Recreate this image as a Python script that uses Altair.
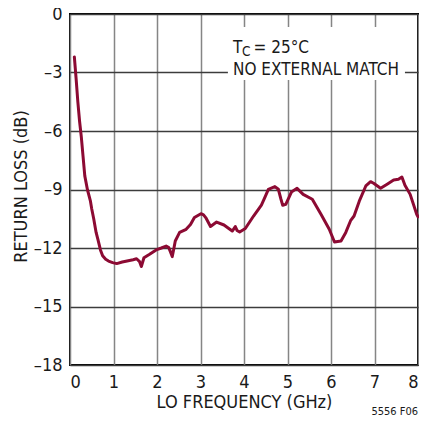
import altair as alt
import pandas as pd

freq = [0.10, 0.14, 0.18, 0.22, 0.26, 0.30, 0.34, 0.40, 0.47, 0.50, 0.545, 0.60, 0.64, 0.70,
        0.75, 0.82, 0.886, 0.98, 1.075, 1.20, 1.34, 1.45, 1.53, 1.60, 1.64, 1.70, 1.83, 1.98,
        2.10, 2.21, 2.27, 2.31, 2.35, 2.39, 2.42, 2.52, 2.67, 2.77, 2.86, 3.01, 3.07, 3.12,
        3.23, 3.37, 3.54, 3.65, 3.73, 3.80, 3.84, 3.90, 4.03, 4.22, 4.40, 4.48, 4.56, 4.71,
        4.79, 4.85, 4.89, 4.96, 5.09, 5.22, 5.36, 5.57, 5.77, 5.96, 6.08, 6.23, 6.34, 6.45,
        6.53, 6.65, 6.80, 6.91, 6.98, 7.14, 7.29, 7.44, 7.55, 7.63, 7.70, 7.82, 7.97, 8.00]
rl = [-2.2, -3.3, -4.5, -5.5, -6.3, -7.3, -8.3, -9.0, -9.6, -10.0, -10.5, -11.2, -11.55, -12.1,
      -12.4, -12.58, -12.67, -12.75, -12.8, -12.72, -12.65, -12.6, -12.55, -12.7, -12.95, -12.5,
      -12.32, -12.1, -12.0, -11.9, -11.98, -12.2, -12.44, -12.0, -11.64, -11.2, -11.04, -10.8,
      -10.44, -10.24, -10.3, -10.44, -10.9, -10.67, -10.82, -11.0, -11.13, -10.9, -11.1, -11.18,
      -11.0, -10.36, -9.8, -9.4, -8.99, -8.85, -8.99, -9.5, -9.81, -9.76, -9.13, -8.94, -9.25,
      -9.5, -10.27, -11.04, -11.69, -11.64, -11.2, -10.6, -10.36, -9.6, -8.82, -8.6, -8.68,
      -8.94, -8.73, -8.51, -8.48, -8.36, -8.78, -9.25, -10.27, -10.4]

x_ticks = [0, 1, 2, 3, 4, 5, 6, 7, 8]
y_ticks = [0, -3, -6, -9, -12, -15, -18]

FONT = "Liberation Sans Narrow, DejaVu Sans Condensed, Roboto, sans-serif"
RED = "#8c0a33"
INK = "#1a1a1a"

df = pd.DataFrame({"f": freq, "rl": rl})

xs = alt.Scale(domain=[0, 8], nice=False, zero=False)
ys = alt.Scale(domain=[-18, 0], nice=False, zero=False)

line = alt.Chart(df).mark_line(color=RED, strokeWidth=3, strokeJoin="round", strokeCap="round").encode(
    x=alt.X("f:Q", scale=xs,
            axis=alt.Axis(values=x_ticks, title="LO FREQUENCY (GHz)", format="d")),
    y=alt.Y("rl:Q", scale=ys,
            axis=alt.Axis(values=y_ticks, title="RETURN LOSS (dB)",
                          labelExpr="replace(format(datum.value, 'd'), '−', '–')")),
)

# white box behind the annotation (hides the grid there)
box = alt.Chart(pd.DataFrame({"a": [0]})).mark_rect(color="white").encode(
    x=alt.datum(3.63), x2=alt.datum(7.70),
    y=alt.datum(-0.67), y2=alt.datum(-3.38),
)

def txt(x, y, s, size, align="left"):
    return alt.Chart(pd.DataFrame({"a": [0]})).mark_text(
        text=s, font=FONT, fontSize=size, align=align, baseline="alphabetic", color=INK
    ).encode(x=alt.datum(x), y=alt.datum(y))

t1 = txt(3.747, -2.02, "T", 17)
t2 = txt(3.955, -2.16, "C", 13.5)
t3 = txt(4.22, -2.02, "= 25°C", 17)
t4 = txt(3.747, -3.13, "NO EXTERNAL MATCH", 17)

note = alt.Chart(pd.DataFrame({"a": [0]})).mark_text(
    text="5556 F06", font=FONT, fontSize=11, align="right", baseline="alphabetic", color=INK
).encode(x=alt.value(348), y=alt.value(401))

chart = alt.layer(box, line, t1, t2, t3, t4, note).properties(
    width=348, height=351,
    autosize=alt.AutoSizeParams(type="none"),
    padding={"left": 62, "top": 6, "right": 1, "bottom": 55},
).configure_view(
    stroke="black", strokeWidth=2
).configure_axis(
    labelFont=FONT, titleFont=FONT, labelFontSize=18, titleFontSize=18,
    labelColor=INK, titleColor=INK, titleFontWeight="normal",
    ticks=False, domain=False, grid=True, gridWidth=1.5,
).configure_axisX(
    gridColor="#858585", labelPadding=8, titleY=42, titleBaseline="alphabetic",
).configure_axisY(
    gridColor="#3c3c3c", labelPadding=8, titleX=-44, titleY=172, titleAngle=-90,
    titleAlign="center", titleBaseline="alphabetic",
)

chart.save("out.html", embed_options={"renderer": "svg", "actions": False})
